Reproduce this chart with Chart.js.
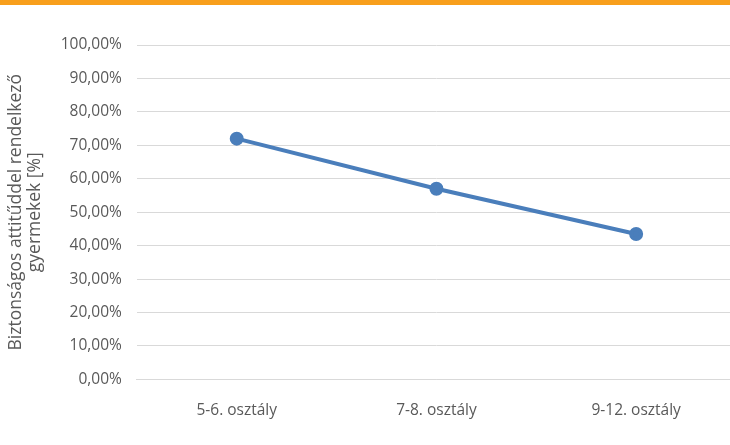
<!DOCTYPE html>
<html>
<head>
<meta charset="utf-8">
<script src="https://cdn.jsdelivr.net/npm/chart.js@4/dist/chart.umd.min.js"></script>
<style>
  html, body { margin: 0; padding: 0; background: #fff; overflow: hidden; }
  .topbar { height: 5px; background: #f89f1c; }
  #wrap { width: 745px; height: 440px; }
</style>
</head>
<body>
<div class="topbar"></div>
<div id="wrap"><canvas id="chart" width="745" height="440"></canvas></div>
<script>
const categories = ['5-6. osztály', '7-8. osztály', '9-12. osztály'];
const percentages = [0.72, 0.57, 0.435];
const yTitle = ['Biztonságos attitűddel rendelkező', 'gyermekek [%]'];

const grey = '#595959';
const fontName = "'Open Sans', sans-serif";

const ctx = document.getElementById('chart').getContext('2d');
const chart = new Chart(ctx, {
  type: 'line',
  data: {
    labels: categories,
    datasets: [{
      data: percentages,
      borderColor: '#4a7ebb',
      backgroundColor: '#4a7ebb',
      borderWidth: 4,
      pointRadius: 5,
      pointHoverRadius: 5,
      tension: 0
    }]
  },
  options: {
    responsive: false,
    animation: false,
    layout: { padding: { top: 40, right: 6, bottom: 3, left: 7 } },
    plugins: { legend: { display: false }, tooltip: { enabled: false } },
    scales: {
      x: {
        offset: true,
        grid: { display: false, drawTicks: false },
        border: { display: true, color: '#d9d9d9', width: 1 },
        ticks: { color: grey, font: { family: fontName, size: 15.5 }, padding: 22 }
      },
      y: {
        min: 0,
        max: 1,
        grid: { color: '#d9d9d9', drawTicks: false },
        border: { display: false },
        ticks: {
          stepSize: 0.1,
          padding: 15,
          color: grey,
          font: { family: fontName, size: 15.5 },
          callback: (v) => (v * 100).toFixed(2).replace('.', ',') + '%'
        },
        title: {
          display: true,
          text: yTitle,
          color: grey,
          font: { family: fontName, size: 17.5, lineHeight: 1.05 },
          padding: { top: 0, bottom: 2 }
        }
      }
    }
  }
});
</script>
</body>
</html>
